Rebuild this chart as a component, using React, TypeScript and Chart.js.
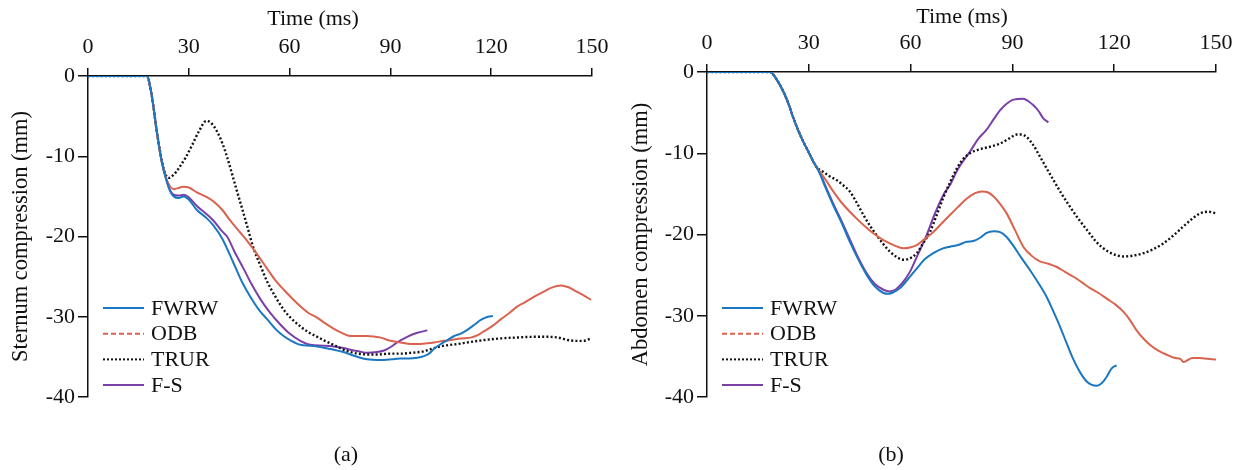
import React, { useEffect, useRef } from "react";
import { Chart, registerables } from "chart.js";

Chart.register(...registerables);

// ---------- shared ----------
const seriesNames = ["FWRW", "ODB", "TRUR", "F-S"];
const seriesColors = ["#1a78c2", "#d9634f", "#111111", "#7a40a8"];
const xTicks = [0, 30, 60, 90, 120, 150];
const yTicks = [0, -10, -20, -30, -40];
const xTitleText = "Time (ms)";

// ---------- (a) Sternum compression ----------
const stFwrwT = [0, 17.5, 19, 20.5, 22, 23.5, 24.5, 25.5, 27, 28.5, 30, 32.4, 35, 37.3, 40, 43.3, 46, 48.3, 51, 53.3, 56, 58.2, 60.5, 63.2, 66, 68.2, 70.5, 73.2, 76, 78.1, 81, 83.1, 86, 88.1, 90.5, 93, 95.5, 98, 100, 101.5, 103, 105, 107, 109, 111, 113, 115, 116.9, 119, 120.5];
const stFwrwV = [0, 0, -2.5, -7.0, -10.8, -13.2, -14.4, -15.0, -15.2, -15.0, -15.4, -16.7, -17.6, -18.6, -20.3, -23.3, -25.8, -27.5, -29.2, -30.3, -31.6, -32.4, -33.0, -33.5, -33.6, -33.7, -33.9, -34.1, -34.4, -34.7, -35.1, -35.3, -35.4, -35.4, -35.3, -35.2, -35.2, -35.1, -34.9, -34.6, -34.0, -33.4, -32.9, -32.4, -32.1, -31.6, -31.0, -30.4, -30.0, -29.9];

const stOdbT = [0, 17.5, 19, 20.5, 22, 23.5, 24.5, 25.5, 26.5, 28.4, 30, 32.4, 35, 37.3, 40, 42.3, 45.3, 47.3, 50, 53.3, 55.5, 58.2, 60.5, 63.2, 65.5, 68.2, 70.5, 73.2, 75.5, 78.1, 80.5, 83.1, 85.5, 87.1, 90, 93, 96, 98, 101, 103, 106, 108, 111, 113.9, 116, 117.9, 120.5, 122.9, 125.5, 127.8, 130, 132.8, 135.5, 137.8, 140.8, 142.8, 144.7, 147, 149.7];
const stOdbV = [0, 0, -2.5, -7.0, -10.8, -13.0, -13.8, -14.1, -14.0, -13.8, -13.9, -14.5, -15.0, -15.6, -16.7, -18.0, -19.5, -20.5, -22.0, -24.0, -25.3, -26.6, -27.6, -28.7, -29.5, -30.1, -30.8, -31.5, -32.0, -32.4, -32.4, -32.4, -32.5, -32.6, -33.0, -33.2, -33.4, -33.4, -33.3, -33.2, -33.0, -32.9, -32.7, -32.6, -32.3, -31.8, -31.1, -30.3, -29.5, -28.7, -28.2, -27.5, -26.9, -26.4, -26.1, -26.3, -26.7, -27.2, -27.9];

const stTrurT = [0, 17.5, 19, 20.5, 22, 23, 24, 25.5, 27, 29, 31, 33, 35.2, 36.5, 38.4, 40, 41.4, 43, 44.3, 46, 47.3, 49.3, 51.3, 53.3, 55.5, 58.2, 60.5, 63.2, 65.5, 68.2, 70.5, 73.1, 75.5, 78.1, 80.5, 83.1, 86, 90, 93, 96, 100, 103, 106, 110, 113, 118, 122.9, 127, 132.8, 137, 140, 142.8, 145, 147.5, 149.7];
const stTrurV = [0, 0, -2.5, -7.0, -10.6, -12.2, -12.7, -12.3, -11.5, -10.2, -8.6, -6.9, -5.6, -5.8, -6.9, -8.4, -10.1, -12.4, -14.3, -16.7, -18.6, -21.5, -23.6, -25.6, -27.3, -29.1, -30.2, -31.2, -31.9, -32.5, -33.0, -33.5, -34.0, -34.4, -34.6, -34.7, -34.7, -34.6, -34.6, -34.5, -34.3, -33.9, -33.6, -33.4, -33.2, -32.9, -32.7, -32.6, -32.5, -32.5, -32.6, -32.9, -33.0, -33.0, -32.7];

const stFsT = [0, 17.5, 19, 20.5, 22, 23.5, 24.5, 25.5, 27, 28.5, 30, 32.4, 35, 37.3, 40, 41.4, 43.5, 46.3, 48.5, 51.3, 54, 57.3, 60, 63.2, 66.2, 70, 73.2, 76, 78.1, 80.5, 83.1, 86, 88.1, 90, 92, 95, 98, 101];
const stFsV = [0, 0, -2.5, -7.0, -10.8, -13.2, -14.3, -14.8, -14.9, -14.8, -15.1, -16.2, -17.1, -18.0, -19.4, -20.0, -21.8, -24.0, -25.8, -27.8, -29.4, -31.0, -32.1, -33.0, -33.5, -33.6, -33.7, -33.9, -34.1, -34.3, -34.5, -34.4, -34.2, -33.8, -33.2, -32.5, -32.0, -31.7];

// ---------- (b) Abdomen compression ----------
const abFwrwT = [0, 18.6, 20.5, 22.5, 24, 25.4, 27, 28.4, 30, 31.3, 33, 35, 37.2, 39.5, 42.1, 44.5, 47.1, 49.5, 52, 53.5, 55, 56.9, 59, 61.8, 64, 66.7, 69, 71.6, 74, 76.5, 78.5, 80.5, 82.4, 84.5, 86.4, 88.3, 90.3, 92.7, 95.2, 97.7, 100.1, 102, 104, 106, 108, 110, 111.9, 113.4, 114.9, 116.3, 117.8, 119.2, 120.7];
const abFwrwV = [0, 0, -0.9, -2.4, -3.9, -5.6, -7.3, -8.6, -9.9, -11.0, -12.3, -14.3, -16.4, -18.4, -20.9, -23.0, -25.0, -26.4, -27.2, -27.3, -27.1, -26.6, -25.6, -24.2, -23.1, -22.3, -21.8, -21.5, -21.3, -20.9, -20.8, -20.4, -19.8, -19.6, -19.7, -20.3, -21.4, -22.9, -24.4, -26.0, -27.7, -29.4, -31.3, -33.4, -35.4, -37.0, -38.1, -38.5, -38.6, -38.3, -37.5, -36.5, -36.1];

const abOdbT = [0, 18.6, 20.5, 22.5, 24, 25.4, 27, 28.4, 30, 31.3, 32.5, 35, 37.2, 39.5, 42.1, 44.5, 47.1, 49.5, 52, 55, 57.9, 59.8, 61.8, 64, 66.7, 69, 71.6, 74, 76.5, 79, 81, 82.7, 84.4, 86.3, 88.3, 90.7, 93.2, 95.6, 98.1, 100.6, 103.1, 105.5, 108, 110.5, 112.9, 115.4, 117.8, 120.3, 122.7, 124.6, 126.6, 128.6, 130.6, 133, 135.5, 138, 139.5, 140.4, 141.5, 143, 145, 147.5, 150];
const abOdbV = [0, 0, -0.9, -2.4, -3.9, -5.6, -7.3, -8.6, -9.9, -11.0, -11.8, -13.3, -14.7, -16.0, -17.2, -18.2, -19.2, -20.0, -20.7, -21.3, -21.7, -21.6, -21.3, -20.6, -19.7, -18.7, -17.6, -16.6, -15.6, -14.9, -14.7, -14.8, -15.3, -16.2, -17.4, -19.4, -21.5, -22.6, -23.3, -23.6, -24.0, -24.6, -25.2, -25.9, -26.6, -27.2, -27.9, -28.6, -29.5, -30.5, -31.8, -32.8, -33.6, -34.3, -34.8, -35.2, -35.3, -35.7, -35.5, -35.2, -35.2, -35.3, -35.4];

const abTrurT = [0, 18.6, 20.5, 22.5, 24, 25.4, 27, 28.4, 30, 31.3, 32.5, 34.3, 36, 38.2, 40, 42.1, 44, 46.1, 48, 50, 52, 53.9, 56, 57.9, 59.5, 61.8, 63.5, 65.7, 67.7, 69.6, 71.6, 73.6, 75.5, 77.5, 80.5, 83.4, 86.4, 89, 91.3, 92.7, 94.2, 96, 98.1, 100, 102.1, 104.5, 107, 109.5, 111.9, 114.3, 116.8, 119.7, 122.7, 125.6, 128.6, 131.5, 134.5, 137.5, 140.4, 142.9, 145.3, 147.8, 150];
const abTrurV = [0, 0, -0.9, -2.4, -3.9, -5.6, -7.3, -8.6, -9.9, -11.0, -11.8, -12.3, -12.8, -13.3, -13.9, -14.7, -16.0, -17.6, -18.9, -20.1, -21.2, -22.1, -22.8, -23.1, -23.0, -22.3, -21.2, -19.7, -17.6, -15.5, -13.6, -11.9, -10.7, -10.0, -9.5, -9.2, -8.8, -8.2, -7.7, -7.7, -8.0, -8.9, -10.4, -11.8, -13.3, -15.0, -16.6, -18.1, -19.4, -20.7, -21.7, -22.4, -22.7, -22.6, -22.3, -21.8, -21.1, -20.1, -19.0, -18.1, -17.4, -17.2, -17.4];

const abFsT = [0, 18.6, 20.5, 22.5, 24, 25.4, 27, 28.4, 30, 31.3, 33, 35, 37.2, 39.5, 42.1, 44.5, 47.1, 49.5, 52, 53.8, 55.5, 57.5, 59.8, 62, 64.7, 67, 69.7, 71.6, 74, 77.5, 80, 82.4, 84.5, 86.4, 88.3, 90.3, 93.2, 94.7, 96.2, 97.7, 99.1, 100.6];
const abFsV = [0, 0, -0.9, -2.4, -3.9, -5.6, -7.3, -8.6, -9.9, -11.0, -12.2, -14.1, -16.2, -18.2, -20.6, -22.8, -24.8, -26.1, -26.8, -27.0, -26.8, -26.0, -24.6, -22.6, -20.1, -17.6, -15.1, -13.9, -11.9, -9.8, -8.2, -7.1, -5.8, -4.7, -3.9, -3.4, -3.3, -3.6, -4.1, -4.8, -5.7, -6.2];

// ---------- chart helpers ----------
const FONT_FAMILY = "'Liberation Serif', 'Times New Roman', serif";
const TEXT_COLOR = "#111111";
const legendDashes = [[], [5, 3], [2, 2], []];
const lineDashes = [[], [], [2, 2.2], []];

const zip = (t: number[], v: number[]) => t.map((x, i) => ({ x, y: v[i] }));

const insideLegend = {
  id: "insideLegend",
  afterDraw(chart: any) {
    const { ctx, chartArea } = chart;
    chart.data.datasets.forEach((ds: any, i: number) => {
      const y = chartArea.bottom - 89 + i * 25.7;
      ctx.save();
      ctx.strokeStyle = ds.borderColor;
      ctx.lineWidth = 2;
      ctx.setLineDash(legendDashes[i]);
      ctx.beginPath();
      ctx.moveTo(chartArea.left + 15, y);
      ctx.lineTo(chartArea.left + 56, y);
      ctx.stroke();
      ctx.setLineDash([]);
      ctx.fillStyle = TEXT_COLOR;
      ctx.font = `22px ${FONT_FAMILY}`;
      ctx.textBaseline = "middle";
      ctx.textAlign = "left";
      ctx.fillText(ds.label, chartArea.left + 63, y + 1);
      ctx.restore();
    });
  },
};

const topTitle = {
  id: "topTitle",
  afterDraw(chart: any, _args: any, opts: any) {
    const { ctx } = chart;
    ctx.save();
    ctx.fillStyle = TEXT_COLOR;
    ctx.font = `22px ${FONT_FAMILY}`;
    ctx.textBaseline = "middle";
    ctx.textAlign = "center";
    ctx.fillText(opts.text, opts.x, opts.y);
    ctx.restore();
  },
};

function makeConfig(
  series: { t: number[]; v: number[] }[],
  yTitle: string,
  area: { left: number; top: number; right: number; bottom: number; w: number; h: number; titleX: number; titleY: number }
): any {
  const font = { family: FONT_FAMILY, size: 22 };
  return {
    type: "line",
    data: {
      datasets: series.map((s, i) => ({
        label: seriesNames[i],
        data: zip(s.t, s.v),
        borderColor: seriesColors[i],
        borderWidth: i === 2 ? 2.4 : 2,
        borderDash: lineDashes[i],
        pointRadius: 0,
        fill: false,
        cubicInterpolationMode: "monotone",
      })),
    },
    options: {
      animation: false,
      responsive: false,
      devicePixelRatio: 1,
      layout: { padding: { left: 0, top: 0, right: area.w - area.right, bottom: area.h - area.bottom } },
      plugins: {
        legend: { display: false },
        tooltip: { enabled: false },
        topTitle: { text: xTitleText, x: area.titleX, y: area.titleY },
      },
      scales: {
        x: {
          type: "linear",
          position: "top",
          min: 0,
          max: 150,
          afterBuildTicks: (s: any) => {
            s.ticks = xTicks.map((value) => ({ value }));
          },
          ticks: { font, color: TEXT_COLOR, padding: 8, maxRotation: 0, autoSkip: false },
          grid: { drawOnChartArea: false, drawTicks: true, tickLength: 8, color: TEXT_COLOR, lineWidth: 1.5 },
          border: { color: TEXT_COLOR, width: 1.5 },
          title: { display: false },
          afterFit: (s: any) => {
            s.height = area.top;
            s.paddingLeft = 0;
            s.paddingRight = 0;
          },
        },
        y: {
          type: "linear",
          min: -40,
          max: 0,
          afterBuildTicks: (s: any) => {
            s.ticks = yTicks.map((value) => ({ value }));
          },
          ticks: { font, color: TEXT_COLOR, padding: 3, callback: (v: number) => String(v) },
          grid: { drawOnChartArea: false, drawTicks: true, tickLength: 10, color: TEXT_COLOR, lineWidth: 1.5 },
          border: { color: TEXT_COLOR, width: 1.5 },
          title: { display: true, text: yTitle, font: { family: FONT_FAMILY, size: 22.5 }, color: TEXT_COLOR, padding: { top: 8, bottom: 0 } },
          afterFit: (s: any) => {
            s.width = area.left;
            s.paddingTop = 0;
            s.paddingBottom = 0;
          },
        },
      },
    },
    plugins: [insideLegend, topTitle],
  };
}

function Panel(props: { series: { t: number[]; v: number[] }[]; yTitle: string; area: any; x: number }) {
  const ref = useRef<HTMLCanvasElement | null>(null);
  useEffect(() => {
    if (!ref.current) return;
    const chart = new Chart(ref.current, makeConfig(props.series, props.yTitle, props.area));
    return () => chart.destroy();
  }, []);
  return (
    <canvas
      ref={ref}
      width={props.area.w}
      height={props.area.h}
      style={{ position: "absolute", left: props.x, top: 0, width: props.area.w, height: props.area.h }}
    />
  );
}

const captionStyle = (cx: number): React.CSSProperties => ({
  position: "absolute",
  left: cx - 40,
  width: 80,
  top: 441,
  textAlign: "center",
  fontFamily: FONT_FAMILY,
  fontSize: 22,
  lineHeight: "26px",
  color: TEXT_COLOR,
});

export default function App() {
  const sternum = [
    { t: stFwrwT, v: stFwrwV },
    { t: stOdbT, v: stOdbV },
    { t: stTrurT, v: stTrurV },
    { t: stFsT, v: stFsV },
  ];
  const abdomen = [
    { t: abFwrwT, v: abFwrwV },
    { t: abOdbT, v: abOdbV },
    { t: abTrurT, v: abTrurV },
    { t: abFsT, v: abFsV },
  ];
  return (
    <div style={{ position: "absolute", left: 0, top: 0, width: 1244, height: 470, background: "#fff", overflow: "hidden" }}>
      <Panel
        series={sternum}
        yTitle="Sternum compression (mm)"
        x={0}
        area={{ left: 88, top: 76, right: 592, bottom: 397, w: 620, h: 470, titleX: 313, titleY: 19 }}
      />
      <Panel
        series={abdomen}
        yTitle="Abdomen compression (mm)"
        x={620}
        area={{ left: 87, top: 72, right: 596, bottom: 397, w: 624, h: 470, titleX: 342, titleY: 17 }}
      />
      <div style={captionStyle(346)}>(a)</div>
      <div style={captionStyle(891)}>(b)</div>
    </div>
  );
}
